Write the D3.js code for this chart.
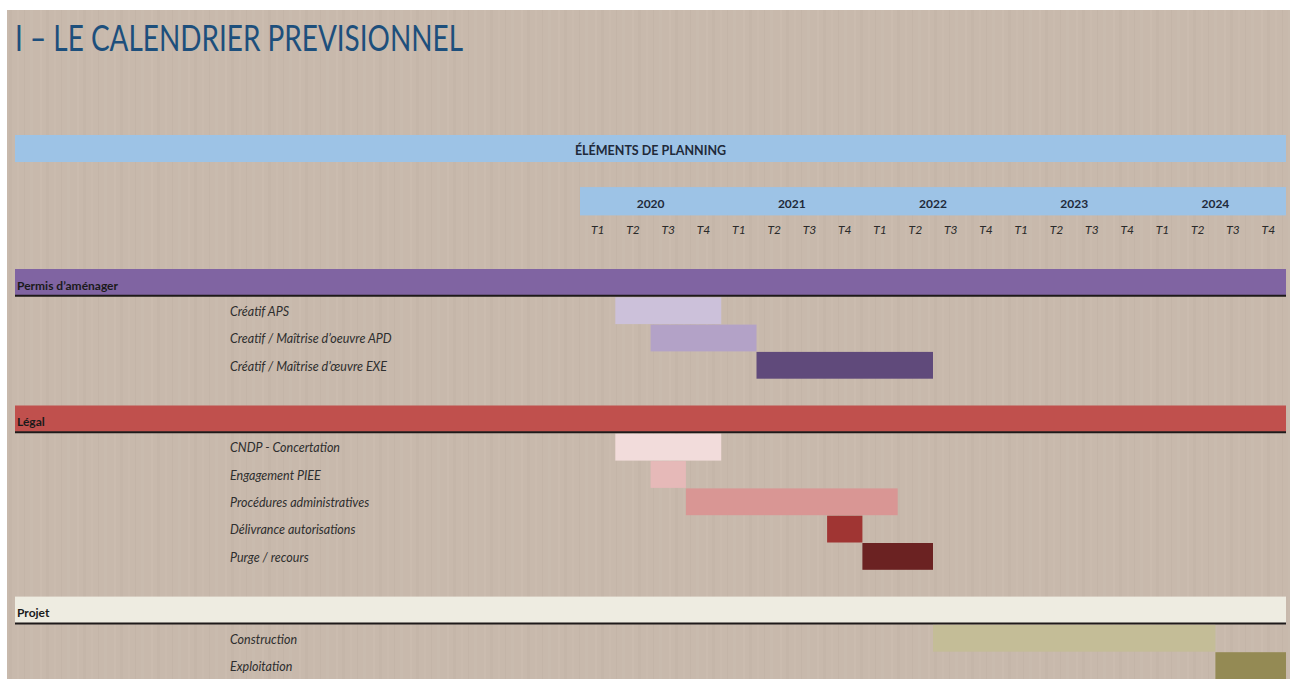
<!DOCTYPE html>
<html lang="fr">
<head>
<meta charset="UTF-8">
<title>Le calendrier prévisionnel</title>
<script src="https://d3js.org/d3.v7.min.js"></script>
<style>
    body { margin: 0; background: #fff; }
    svg { display: block; font-family: Lato, "Open Sans", sans-serif; }
</style>
</head>
<body>
<svg id="chart" width="1295" height="679"></svg>
<script>
// planning data
const years = [2020, 2021, 2022, 2023, 2024];
const quarters = ["T1", "T2", "T3", "T4"];
const sections = ["Permis d\u2019aménager", "Légal", "Projet"];
const tasks = [
    "Créatif APS",
    "Creatif / Maîtrise d\u2019oeuvre APD",
    "Créatif / Maîtrise d\u2019œuvre EXE",
    "CNDP - Concertation",
    "Engagement PIEE",
    "Procédures administratives",
    "Délivrance autorisations",
    "Purge / recours",
    "Construction",
    "Exploitation"
];
const taskSection = [0, 0, 0, 1, 1, 1, 1, 1, 2, 2];
// quarter index counted from 2020 T1 (start inclusive, end exclusive)
const taskStart = [1, 2, 5, 1, 2, 3, 7, 8, 10, 18];
const taskEnd   = [4, 5, 10, 4, 3, 9, 8, 10, 18, 20];

const sectionColors = ["#8064a2", "#c0504d", "#eeece1"];
const taskColors = ["#ccc1da", "#b3a2c7", "#604a7b",
                    "#f2dcdb", "#e6b9b8", "#d99694", "#a03533", "#6b2222",
                    "#c4bd97", "#948a54"];

const svg = d3.select("#chart");

// background with faint vertical streaks
const defs = svg.append("defs");
const pat = defs.append("pattern")
    .attr("id", "wood")
    .attr("patternUnits", "userSpaceOnUse")
    .attr("width", 37).attr("height", 679);
pat.append("rect").attr("width", 37).attr("height", 679).attr("fill", "#c8b9ac");
[[3, 2, "#cbbcaf"], [9, 3, "#c5b6a9"], [17, 2, "#cabbae"], [24, 1, "#c4b5a8"], [30, 3, "#c9bbae"]]
    .forEach(s => pat.append("rect").attr("x", s[0]).attr("width", s[1]).attr("height", 679).attr("fill", s[2]));

svg.append("rect")
    .attr("x", 7).attr("y", 10).attr("width", 1283).attr("height", 669)
    .attr("fill", "url(#wood)");

svg.append("text")
    .attr("x", 15).attr("y", 51)
    .attr("fill", "#1d4f7c")
    .attr("textLength", 448)
    .attr("lengthAdjust", "spacingAndGlyphs")
    .style("font-size", "36px")
    .text("I \u2013 LE CALENDRIER PREVISIONNEL");

const left = 15, right = 1286;
const x = d3.scaleLinear().domain([0, years.length * 4]).range([580, right]);
const rowH = 27.3;
const y = d3.scaleLinear().domain([0, 1]).range([269, 269 + rowH]);

// header band
svg.append("rect")
    .attr("x", left).attr("y", 135).attr("width", right - left).attr("height", 27)
    .attr("fill", "#9dc3e6");
svg.append("text")
    .attr("x", (left + right) / 2).attr("y", 155)
    .attr("text-anchor", "middle")
    .attr("fill", "#1f2a3a")
    .style("font-size", "12.5px").style("font-weight", "bold")
    .text("ÉLÉMENTS DE PLANNING");

// year band
svg.append("rect")
    .attr("x", x(0)).attr("y", y(-3)).attr("width", x(20) - x(0)).attr("height", rowH + 1)
    .attr("fill", "#9dc3e6");
svg.selectAll("text.year")
    .data(years)
    .join("text")
    .attr("class", "year")
    .attr("x", (d, i) => x(i * 4 + 2))
    .attr("y", y(-2.5) + 7)
    .attr("text-anchor", "middle")
    .attr("fill", "#1f2a3a")
    .style("font-size", "12px").style("font-weight", "bold")
    .text(d => d);

const qLabels = years.flatMap(() => quarters);
svg.selectAll("text.quarter")
    .data(qLabels)
    .join("text")
    .attr("class", "quarter")
    .attr("x", (d, i) => x(i + 0.5))
    .attr("y", y(-1.5) + 6)
    .attr("text-anchor", "middle")
    .attr("fill", "#2a2a2a")
    .style("font-size", "12px").style("font-style", "italic")
    .text(d => d);

// rows: each section band followed by its tasks and a blank row
let row = 0;
const sectionRow = [], taskRow = [];
sections.forEach((s, si) => {
    sectionRow.push(row);
    row++;
    tasks.forEach((t, ti) => {
        if (taskSection[ti] === si) { taskRow[ti] = row; row++; }
    });
    row++;
});

const sec = svg.selectAll("g.section")
    .data(sections)
    .join("g")
    .attr("class", "section");
sec.append("rect")
    .attr("x", left).attr("y", (d, i) => y(sectionRow[i]))
    .attr("width", right - left).attr("height", rowH - 1)
    .attr("fill", (d, i) => sectionColors[i]);
sec.append("line")
    .attr("x1", left).attr("x2", right)
    .attr("y1", (d, i) => y(sectionRow[i] + 1) - 0.5)
    .attr("y2", (d, i) => y(sectionRow[i] + 1) - 0.5)
    .attr("stroke", "#1e1a1a").attr("stroke-width", 2);
sec.append("text")
    .attr("x", 17).attr("y", (d, i) => y(sectionRow[i] + 0.5) + 7)
    .attr("fill", "#1a1a1a")
    .style("font-size", "12px").style("font-weight", "bold")
    .text(d => d);

svg.selectAll("rect.bar")
    .data(tasks)
    .join("rect")
    .attr("class", "bar")
    .attr("x", (d, i) => x(taskStart[i]))
    .attr("y", (d, i) => y(taskRow[i]) + 1)
    .attr("width", (d, i) => x(taskEnd[i]) - x(taskStart[i]))
    .attr("height", rowH - 0.5)
    .attr("fill", (d, i) => taskColors[i]);

svg.selectAll("text.task")
    .data(tasks)
    .join("text")
    .attr("class", "task")
    .attr("x", 230).attr("y", (d, i) => y(taskRow[i] + 0.5) + 6)
    .attr("fill", "#2e2e2e")
    .style("font-size", "12.5px").style("font-style", "italic")
    .text(d => d);
</script>
</body>
</html>
